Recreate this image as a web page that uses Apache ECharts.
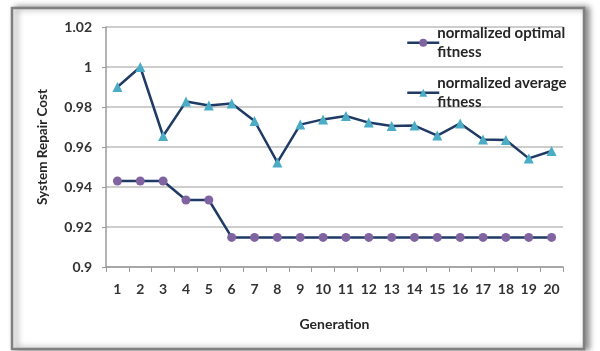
<!DOCTYPE html>
<html>
<head>
<meta charset="utf-8">
<script src="https://cdn.jsdelivr.net/npm/echarts@6/dist/echarts.min.js"></script>
<style>
  html, body { margin: 0; padding: 0; background: #ffffff; }
  #chart { width: 600px; height: 351px; }
</style>
</head>
<body>
<div id="chart"></div>
<script>
// Generations 1..20
const generations = ['1','2','3','4','5','6','7','8','9','10','11','12','13','14','15','16','17','18','19','20'];

// Normalized best fitness per generation
const optimalFitness = [0.943, 0.943, 0.943, 0.9335, 0.9335, 0.9148, 0.9148, 0.9148, 0.9148, 0.9148,
                        0.9148, 0.9148, 0.9148, 0.9148, 0.9148, 0.9148, 0.9148, 0.9148, 0.9148, 0.9148];

// Normalized population-average fitness per generation
const averageFitness = [0.990, 1.000, 0.9655, 0.9827, 0.9807, 0.9818, 0.973, 0.9523, 0.9712, 0.9738,
                        0.9755, 0.9722, 0.9705, 0.9707, 0.9657, 0.9718, 0.9638, 0.9635, 0.9543, 0.958];

const seriesNames = ['normalized optimal\nfitness', 'normalized average\nfitness'];

const FONT = 'Lato, "Open Sans", sans-serif';
const LABEL_COLOR = '#333333';
const LINE_COLOR = '#1f3a64';
const LEGEND_LH = 18.5;

// One legend block per series; top padding equal to one line keeps the icon level with the first text line
function legendBlock(name, top) {
  return {
    orient: 'vertical',
    left: 401,
    top: top,
    itemWidth: 32,
    itemHeight: 10,
    data: [name],
    lineStyle: { width: 2.5 },
    textStyle: {
      fontFamily: FONT,
      fontWeight: 'bold',
      fontSize: 15,
      color: '#262626',
      lineHeight: LEGEND_LH,
      padding: [LEGEND_LH, 0, 0, -7]
    }
  };
}

const chart = echarts.init(document.getElementById('chart'), null, { renderer: 'canvas' });

chart.setOption({
  backgroundColor: '#ffffff',
  animation: false,
  graphic: [
    {
      type: 'rect',
      z: -10,
      shape: { x: 12, y: 8, width: 572, height: 341 },
      style: {
        fill: '#ffffff',
        stroke: '#808080',
        lineWidth: 2.5,
        shadowColor: 'rgba(0,0,0,0.45)',
        shadowBlur: 6,
        shadowOffsetX: 4,
        shadowOffsetY: 0
      }
    }
  ],
  grid: { left: 106, right: 37, top: 27, bottom: 84 },
  legend: [
    legendBlock(seriesNames[0], 10),
    legendBlock(seriesNames[1], 60)
  ],
  xAxis: {
    type: 'category',
    data: generations,
    boundaryGap: true,
    name: 'Generation',
    nameLocation: 'middle',
    nameGap: 50,
    nameTextStyle: { fontFamily: FONT, fontWeight: 'bold', fontSize: 14, color: '#262626' },
    axisLine: { lineStyle: { color: '#9a9a9a', width: 1.5 } },
    axisTick: { show: true, interval: 0, alignWithLabel: false, length: 5, lineStyle: { color: '#9a9a9a' } },
    axisLabel: { interval: 0, margin: 15, fontFamily: FONT, fontWeight: 'bold', fontSize: 14, color: LABEL_COLOR },
    splitLine: { show: false }
  },
  yAxis: {
    type: 'value',
    min: 0.9,
    max: 1.02,
    interval: 0.02,
    name: 'System Repair Cost',
    nameLocation: 'middle',
    nameRotate: 90,
    nameGap: 56,
    nameTextStyle: { fontFamily: FONT, fontWeight: 'bold', fontSize: 13.5, color: '#262626' },
    axisLine: { show: true, lineStyle: { color: '#9a9a9a', width: 1.5 } },
    axisTick: { show: true, length: 4, lineStyle: { color: '#9a9a9a' } },
    axisLabel: {
      margin: 14,
      fontFamily: FONT,
      fontWeight: 'bold',
      fontSize: 14,
      color: LABEL_COLOR,
      formatter: v => String(parseFloat(v.toFixed(2)))
    },
    splitLine: { show: true, lineStyle: { color: '#bdbdbd', width: 1.5 } }
  },
  series: [
    {
      name: seriesNames[0],
      type: 'line',
      data: optimalFitness,
      symbol: 'circle',
      symbolSize: 9,
      lineStyle: { color: LINE_COLOR, width: 2.5 },
      itemStyle: { color: '#8064a2', borderWidth: 0 },
      z: 3
    },
    {
      name: seriesNames[1],
      type: 'line',
      data: averageFitness,
      symbol: 'triangle',
      symbolSize: 10,
      lineStyle: { color: LINE_COLOR, width: 2.5 },
      itemStyle: { color: '#4bacc6', borderWidth: 0 },
      z: 3
    }
  ]
});
</script>
</body>
</html>
